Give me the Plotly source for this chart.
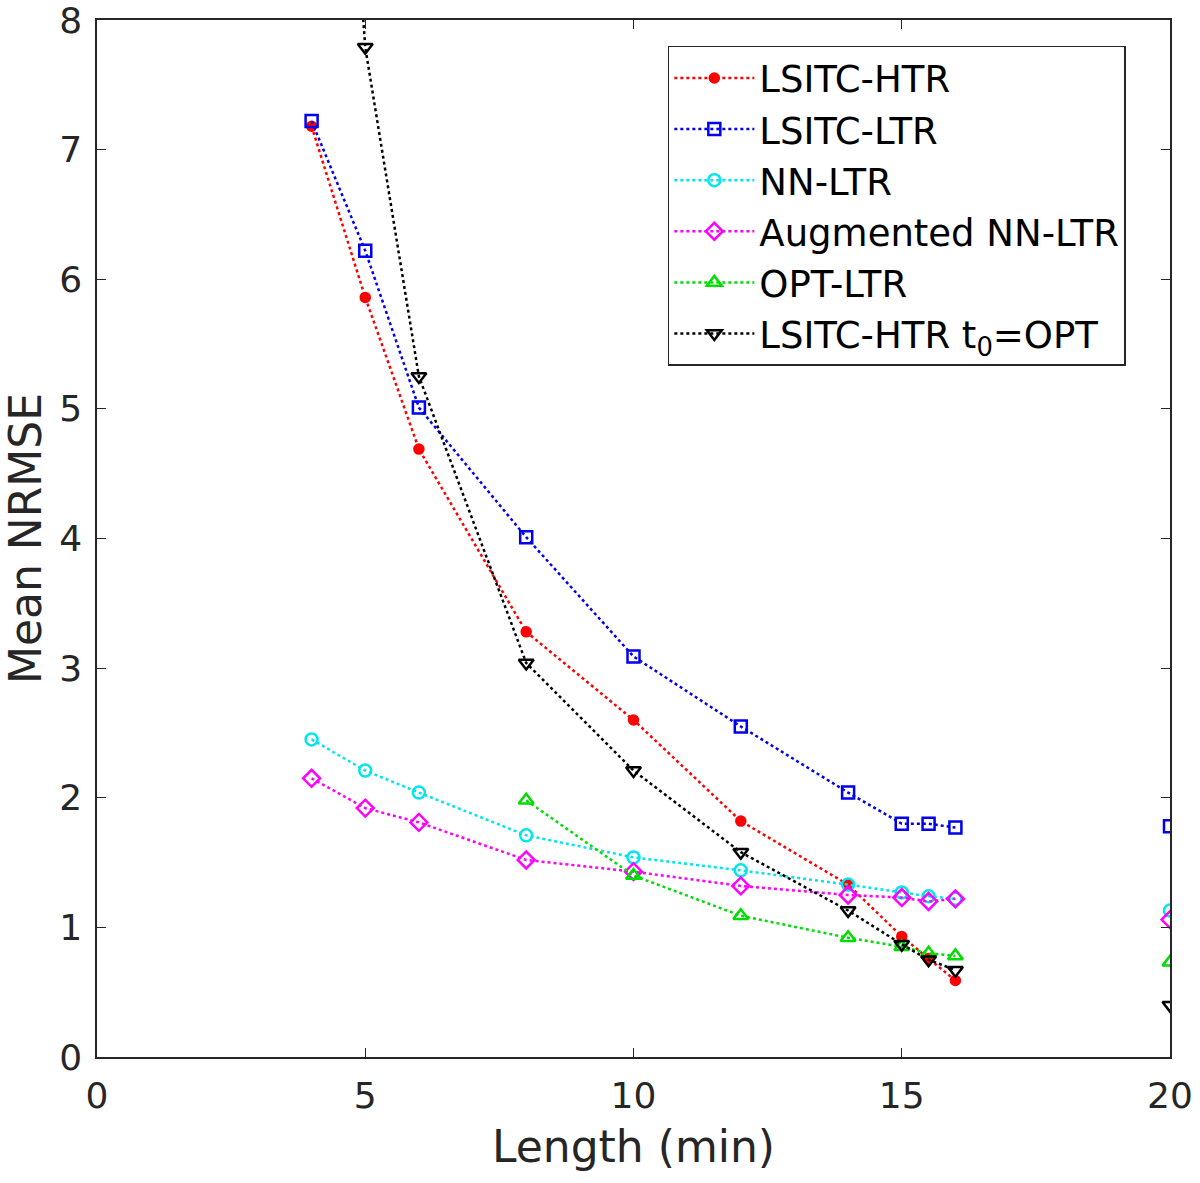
import plotly.graph_objects as go

x_vals = [4, 5, 6, 8, 10, 12, 14, 15, 15.5, 16, 18, 20]

lsitc_htr = [7.18, 5.86, 4.69, 3.28, 2.60, 1.82, 1.33, 0.93, 0.76, 0.59, None, None]
lsitc_ltr = [7.22, 6.22, 5.01, 4.01, 3.09, 2.55, 2.04, 1.80, 1.80, 1.77, None, 1.78]
nn_ltr = [2.45, 2.21, 2.04, 1.71, 1.54, 1.44, 1.33, 1.27, 1.24, 1.22, None, 1.13]
aug_nn_ltr = [2.15, 1.92, 1.81, 1.52, 1.43, 1.32, 1.25, 1.23, 1.20, 1.22, None, 1.06]
opt_ltr = [None, None, None, 1.98, 1.40, 1.09, 0.92, 0.85, 0.80, 0.78, None, 0.73]
lsitc_htr_t0 = [13.5, 7.79, 5.25, 3.04, 2.21, 1.58, 1.13, 0.87, 0.75, 0.67, None, 0.40]

series = [
    ("LSITC-HTR", lsitc_htr, "#ff0000", "circle", 9),
    ("LSITC-LTR", lsitc_ltr, "#0000ee", "square-open", 12),
    ("NN-LTR", nn_ltr, "#00e5ee", "circle-open", 12),
    ("Augmented NN-LTR", aug_nn_ltr, "#ff00ff", "diamond-open", 13),
    ("OPT-LTR", opt_ltr, "#00dd00", "triangle-up-open", 13),
    ("LSITC-HTR t<sub>0</sub>=OPT", lsitc_htr_t0, "#000000", "triangle-down-open", 13),
]

fig = go.Figure()
for name, y, color, sym, size in series:
    fig.add_trace(go.Scatter(
        x=x_vals, y=y, name=name, mode="lines+markers",
        line=dict(color=color, width=2.5, dash="dot"),
        marker=dict(symbol=sym, size=size, color=color,
                    line=dict(color=color, width=2.5)),
        connectgaps=False,
    ))

axis_common = dict(
    showline=True, linecolor="#262626", linewidth=1.5, mirror="ticks",
    ticks="inside", ticklen=9, tickwidth=1.2, tickcolor="#262626",
    showgrid=False, zeroline=False, automargin=False,
    ticklabeloverflow="allow",
    tickfont=dict(family="DejaVu Sans", size=36, color="#262626"),
)

fig.update_layout(
    width=1200, height=1183,
    margin=dict(l=97, r=30, t=20, b=126),
    plot_bgcolor="white", paper_bgcolor="white",
    xaxis=dict(range=[0, 20], tickvals=[0, 5, 10, 15, 20], ticklabelstandoff=6,
               title=dict(text="Length (min)", font=dict(family="DejaVu Sans", size=44, color="#262626"), standoff=16),
               **axis_common),
    yaxis=dict(range=[0, 8], tickvals=[0, 1, 2, 3, 4, 5, 6, 7, 8], ticklabelstandoff=6,
               title=dict(text="Mean NRMSE", font=dict(family="DejaVu Sans", size=44, color="#262626"), standoff=14),
               **axis_common),
    legend=dict(
        x=0.532, y=0.975, xanchor="left", yanchor="top",
        bgcolor="white", bordercolor="#262626", borderwidth=1.5,
        font=dict(family="DejaVu Sans", size=37, color="black"),
        itemwidth=80, tracegroupgap=0,
    ),
    showlegend=True,
)

fig.write_html("out.html", config={"displayModeBar": False},
               post_script="document.body.style.margin='0';document.body.style.overflow='hidden';")
